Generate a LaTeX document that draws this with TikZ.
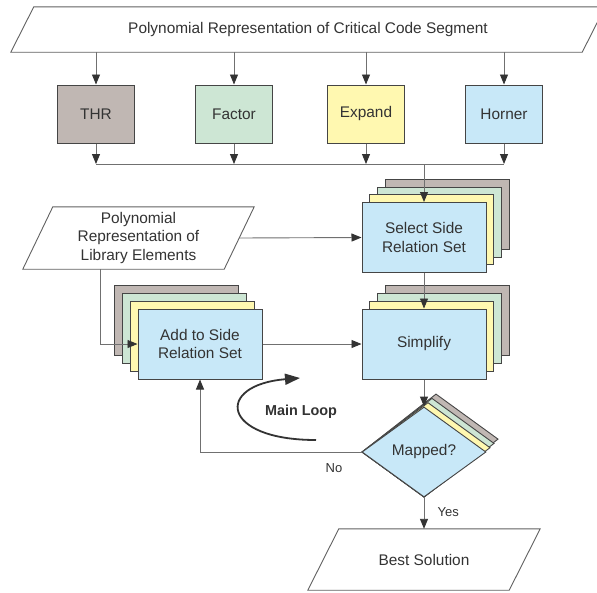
\documentclass[tikz,border=0pt]{standalone}
\usepackage{fontspec}
\setmainfont{Liberation Sans}
\usetikzlibrary{arrows.meta,shapes.geometric,calc}

\definecolor{ink}{HTML}{333333}
\definecolor{wirec}{HTML}{707070}
\definecolor{edgec}{HTML}{454545}
\definecolor{thrc}{HTML}{C0B7B3}
\definecolor{facc}{HTML}{CDE6D4}
\definecolor{expc}{HTML}{FFF8B0}
\definecolor{horc}{HTML}{C8E8F8}

\tikzset{
  txt/.style={font=\fontsize{15.4}{18.5}\selectfont, text=ink, align=center},
  smalltxt/.style={font=\fontsize{13}{15}\selectfont, text=ink},
  stage/.style={txt, draw=edgec, line width=1pt, minimum width=77pt,
    minimum height=58pt, inner sep=0pt},
  card/.style={txt, draw=edgec, line width=1pt, fill=horc,
    minimum width=124pt, minimum height=70pt, inner sep=0pt},
  layer/.style={draw=edgec, line width=1pt, minimum width=124pt,
    minimum height=70pt, inner sep=0pt},
  decision/.style={diamond, draw=edgec, line width=0.9pt,
    minimum width=124pt, minimum height=90pt, inner sep=0pt},
  decisionlayer/.style={draw=edgec, line width=0.9pt},
  iobox/.style={txt, inner sep=0pt, minimum height=#1},
  ioline/.style={draw=edgec!85, line width=0.9pt, fill=white},
  wire/.style={draw=wirec, line width=0.9pt},
  arr/.style={wire, -{Triangle[length=10pt,width=8pt,color=ink]}},
  looparrow/.style={draw=ink, line width=1.8pt,
    -{Triangle[length=15pt,width=11pt]}},
}

\begin{document}
\begin{tikzpicture}[x=1pt,y=-1pt]
\useasboundingbox (0,0) rectangle (597,592);
\clip (0,0) rectangle (597,592);
\fill[white] (0,0) rectangle (597,592);

% input: critical code segment
\node[iobox=45pt, minimum width=571pt] (top) at (308,29.5) {};
\draw[ioline] ($(top.south west)+(-11.5,0)$) -- ($(top.north west)+(11.5,0)$)
  -- ($(top.north east)+(11.5,0)$) -- ($(top.south east)+(-11.5,0)$) -- cycle;
\node[txt] at (top) {Polynomial Representation of Critical Code Segment};

% transformation stages
\node[stage, fill=thrc] (thr) at (96,114)  {THR};
\node[stage, fill=facc] (fac) at (234,114) {Factor};
\node[stage, fill=expc] (exp) at (366,114) {Expand};
\node[stage, fill=horc] (hor) at (504,114) {Horner};
\coordinate (bus) at (0,164);

% input: library elements
\node[iobox=62pt, minimum width=201pt] (lib) at (138.5,238) {};
\draw[ioline] ($(lib.south west)+(-15,0)$) -- ($(lib.north west)+(15,0)$)
  -- ($(lib.north east)+(15,0)$) -- ($(lib.south east)+(-15,0)$) -- cycle;
\node[txt] at (lib) {Polynomial\\Representation of\\Library Elements};

% stacked cards: select side relation set
\coordinate (selpos) at (424,237.5);
\foreach \k/\c in {3/thrc,2/facc,1/expc}
  \node[layer, fill=\c] (sel\k) at ($(selpos)+(7.7*\k,-7.7*\k)$) {};
\node[card] (sel) at (selpos) {Select Side\\Relation Set};

% stacked cards: simplify
\coordinate (simppos) at (424,344);
\foreach \k/\c in {3/thrc,2/facc,1/expc}
  \node[layer, fill=\c] (simp\k) at ($(simppos)+(7.7*\k,-7.7*\k)$) {};
\node[card] (simp) at (simppos) {Simplify};

% stacked cards: add to side relation set
\coordinate (addpos) at (200,344);
\foreach \k/\c in {3/thrc,2/facc,1/expc}
  \node[layer, fill=\c] (add\k) at ($(addpos)+(-7.7*\k,-7.7*\k)$) {};
\node[card] (add) at (addpos) {Add to Side\\Relation Set};

% decision, with stacked copies fanned out along its upper right edge
\coordinate (mappos) at (424,452);
\foreach \k/\c in {3/thrc,2/facc,1/expc}
  \draw[decisionlayer, fill=\c] ($(mappos)+(-62,0)$)
    -- ($(mappos)+(4*\k,-45-4.3*\k)$)
    -- ($(mappos)+(62+4*\k,-4.3*\k)$)
    -- ($(mappos)+(0,45)$) -- cycle;
\node[decision, fill=horc, txt] (map) at (mappos) {Mapped?};

% output
\node[iobox=61pt, minimum width=201pt] (best) at (424,559.5) {};
\draw[ioline] ($(best.south west)+(-15.5,0)$) -- ($(best.north west)+(15.5,0)$)
  -- ($(best.north east)+(15.5,0)$) -- ($(best.south east)+(-15.5,0)$) -- cycle;
\node[txt] at (best) {Best Solution};

% connectors
\foreach \n in {thr,fac,exp,hor} {
  \draw[arr] (top.south -| \n) -- (\n.north);
  \draw[arr] (\n.south) -- (\n |- bus);
}
\draw[wire] (thr |- bus) -- (hor |- bus);
\draw[arr] (bus -| sel) -- (sel.north);
\draw[arr] (lib.east) -- (sel.west);
\draw[arr] (sel.south) -- (simp.north);
\draw[arr] ([xshift=-38.5pt]lib.south) |- (add.west);
\draw[arr] (add.east) -- (simp.west);
\draw[arr] (simp.south) -- (map.north);
\draw[arr] (map.west) -| (add.south);
\draw[arr] (map.south) -- (best.north);

\node[smalltxt] (nolabel) at (334,468) {No};
\node[smalltxt, anchor=west] (yeslabel) at (434,512) {Yes};

% main loop marker
\coordinate (loopA) at (316,440);
\coordinate (loopB) at (300,378);
\draw[looparrow] (loopA) .. controls (220,440) and (215,385) .. (loopB);
\node[font=\bfseries\fontsize{14.4}{17}\selectfont, text=ink] (looplabel)
  at (301,412) {Main Loop};
\end{tikzpicture}
\end{document}
